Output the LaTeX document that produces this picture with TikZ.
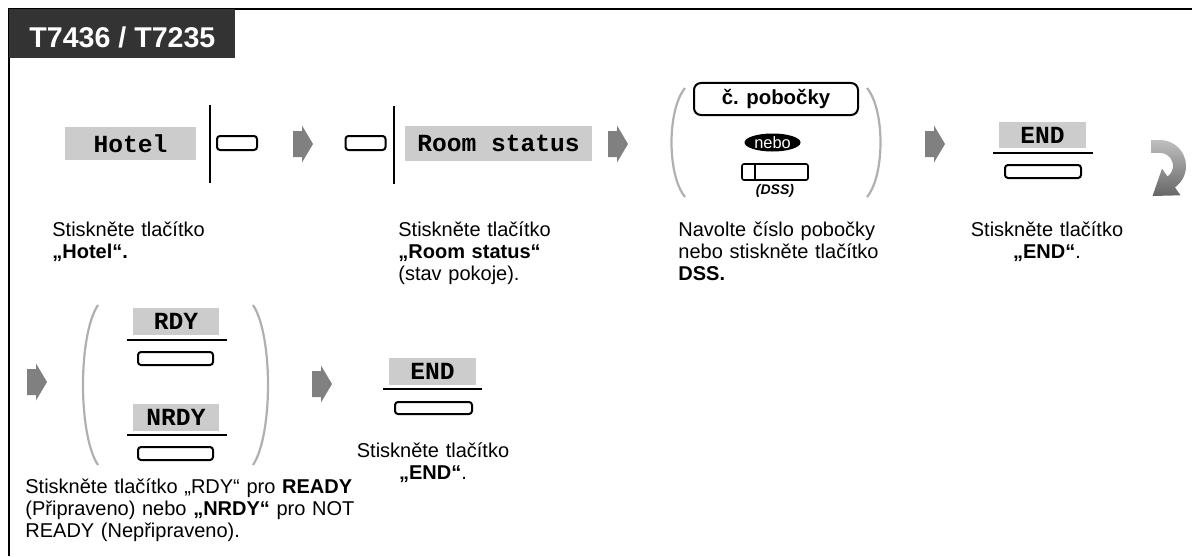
\documentclass[tikz,border=0pt]{standalone}
\usepackage{fontspec}
\setmainfont{Liberation Sans}
\setmonofont{Liberation Mono}
\usetikzlibrary{shapes.geometric}

\definecolor{headGray}{HTML}{333333}
\definecolor{lblGray}{HTML}{CCCCCC}
\definecolor{arrowGray}{HTML}{808080}
\definecolor{parenGray}{HTML}{B0B0B0}

\tikzset{
    flowarrow/.pic={
        \fill[arrowGray] (-10,-13) -- (-1,-13) -- (-1,-18.5) -- (10,0)
            -- (-1,18.5) -- (-1,13) -- (-10,13) -- cycle;
    }
}

\begin{document}
\begin{tikzpicture}[
        x=0.5pt, y=-0.5pt,
        grayLbl/.style={fill=lblGray, inner sep=0pt,
            font=\ttfamily\bfseries\fontsize{12.3}{14}\selectfont},
        keyBtn/.style={draw, line width=1pt, rounded corners=1.5pt,
            minimum width=20pt, minimum height=7pt, inner sep=0pt},
        stepText/.style={inner sep=0pt, anchor=base west, align=left,
            font=\fontsize{10}{11}\selectfont},
        endText/.style={inner sep=0pt, anchor=base, align=center, text width=90pt,
            font=\fontsize{10}{11}\selectfont},
        panelLine/.style={line width=1pt},
        underLine/.style={line width=0.7pt},
        parenLine/.style={parenGray, line width=1.1pt}
    ]
        \useasboundingbox (0,0) rectangle (1192,556);

        % frame and header tab
        \draw[line width=1.3pt] (9,556) -- (9,9) -- (1192,9);
        \fill[headGray] (9,9) rectangle (235,58);
        \node[anchor=base west, inner sep=0pt, white,
            font=\bfseries\fontsize{14.3}{16}\selectfont] (title) at (29,48) {T7436 / T7235};

        % step 1: Hotel
        \node[grayLbl, minimum width=65.5pt, minimum height=16.5pt] (hotelLbl) at (130.5,143.5) {Hotel};
        \draw[panelLine] (210,105) -- (210,183);
        \node[keyBtn] (hotelKey) at (237,143) {};
        \pic at (303,144) {flowarrow};

        % step 2: Room status
        \node[keyBtn] (roomKey) at (365.5,143) {};
        \draw[panelLine] (394,106) -- (394,184);
        \node[grayLbl, minimum width=93.5pt, minimum height=17.5pt] (roomLbl) at (498.5,143.5) {Room status};
        \pic at (618,144) {flowarrow};

        % step 3: extension number or DSS
        \draw[parenLine] (685,88) .. controls (667,110) and (667,175) .. (685,197);
        \draw[parenLine] (867,88) .. controls (885,110) and (885,175) .. (867,197);
        \node[draw, line width=1pt, rounded corners=3.5pt, minimum width=82pt, minimum height=16pt,
            inner sep=0pt, font=\bfseries\fontsize{10.2}{12}\selectfont] (extBox) at (776,99) {č. pobočky};
        \node[ellipse, fill=black, text=white, minimum width=28pt, minimum height=9pt,
            inner sep=-3pt, font=\fontsize{8.2}{9}\selectfont] (orTag) at (772.5,142.5) {nebo};
        \node[draw, line width=0.8pt, rounded corners=1pt, minimum width=33pt, minimum height=8pt,
            inner sep=0pt] (dssKey) at (775,172) {};
        \draw[line width=0.8pt] (dssKey.north west) ++(14,0) -- ++(0,16);
        \node[inner sep=0pt, font=\bfseries\itshape\fontsize{7}{8}\selectfont] (dssTag) at (775,191) {(DSS)};
        \pic at (935,144) {flowarrow};

        % step 4: END
        \node[grayLbl, minimum width=43.5pt, minimum height=13pt] (endLbl) at (1042.5,135) {END};
        \draw[underLine] (993,153) -- (1093,153);
        \node[keyBtn, minimum width=38pt, minimum height=6.5pt] (endKey) at (1043,171.5) {};

        % turn to next row
        \shade[top color=black!25, bottom color=black!60]
            (1151,140) -- (1160,140) arc[start angle=-90, end angle=55, radius=26]
            -- (1180.5,195.3) -- (1152.5,196) -- (1162,168.7) -- (1167.5,176.6)
            arc[start angle=55, end angle=-90, radius=13] -- (1151,153) -- cycle;

        % texts of row 1
        \node[stepText, text width=90pt] (hotelTxt) at (52,236) {Stiskněte tlačítko\\\textbf{„Hotel“.}};
        \node[stepText, text width=90pt] (roomTxt) at (398,236) {Stiskněte tlačítko\\\textbf{„Room status“}\\(stav pokoje).};
        \node[stepText, text width=110pt] (extTxt) at (678,236) {Navolte číslo pobočky\\nebo stiskněte tlačítko\\\textbf{DSS.}};
        \node[endText] (endTxt) at (1047,236) {Stiskněte tlačítko\\\textbf{„END“}.};

        % step 5: RDY or NRDY
        \pic at (37,382) {flowarrow};
        \draw[parenLine] (98,305) .. controls (78,335) and (78,435) .. (98,465);
        \draw[parenLine] (253,305) .. controls (273,335) and (273,435) .. (253,465);
        \node[grayLbl, minimum width=43pt, minimum height=13.5pt] (rdyLbl) at (176,321.5) {RDY};
        \draw[underLine] (127,340) -- (227,340);
        \node[keyBtn, minimum width=37.5pt, minimum height=6.5pt] (rdyKey) at (175.5,358.5) {};
        \node[grayLbl, minimum width=43pt, minimum height=13.5pt] (nrdyLbl) at (176,417.5) {NRDY};
        \draw[underLine] (127,435) -- (227,435);
        \node[keyBtn, minimum width=37.5pt, minimum height=6.5pt] (nrdyKey) at (175.5,453.5) {};
        \pic at (322,384) {flowarrow};

        % step 6: END
        \node[grayLbl, minimum width=43.5pt, minimum height=13.5pt] (endLblB) at (432.5,371.5) {END};
        \draw[underLine] (383,389) -- (482,389);
        \node[keyBtn, minimum width=38.5pt, minimum height=6pt] (endKeyB) at (433.5,408) {};

        % texts of row 2
        \node[endText] (endTxtB) at (433,457) {Stiskněte tlačítko\\\textbf{„END“}.};
        \node[stepText, text width=180pt] (rdyTxt) at (25,493) {Stiskněte tlačítko „RDY“ pro \textbf{READY}\\(Připraveno) nebo \textbf{„NRDY“} pro NOT\\READY (Nepřipraveno).};

    \end{tikzpicture}
\end{document}
